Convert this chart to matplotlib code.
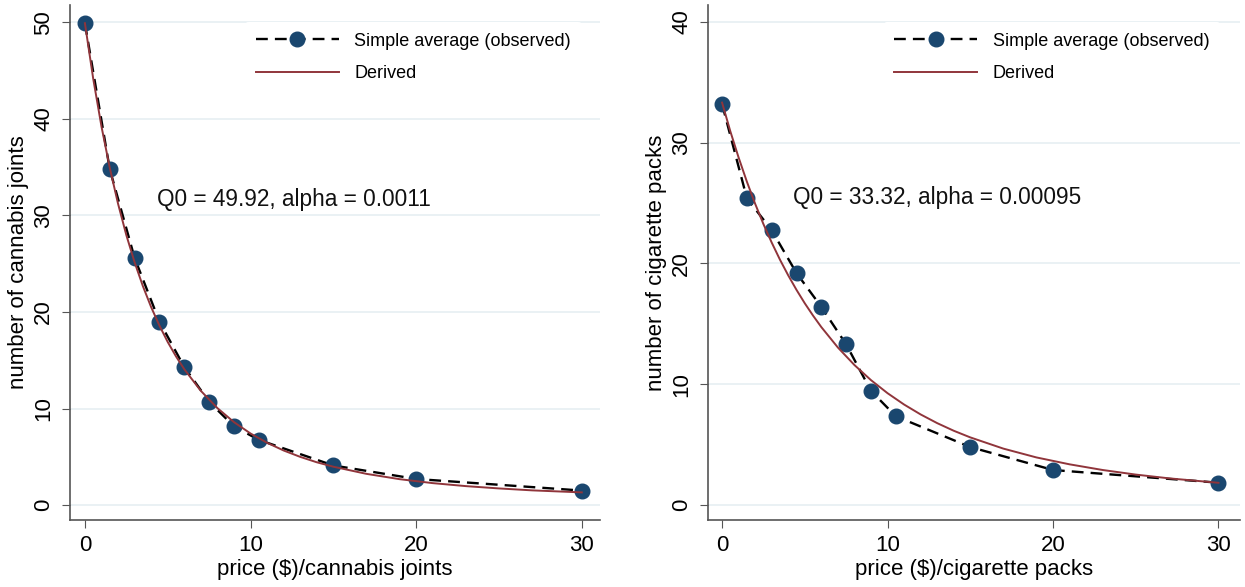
import matplotlib
matplotlib.use('Agg')
import matplotlib.pyplot as plt
import numpy as np

plt.rcParams['font.family'] = ['Liberation Sans', 'DejaVu Sans']

# observed simple averages
price = [0, 1.5, 3, 4.5, 6, 7.5, 9, 10.5, 15, 20, 30]
cannabis_obs = [49.92, 34.8, 25.6, 19.0, 14.3, 10.7, 8.15, 6.75, 4.1, 2.7, 1.5]
cigarette_obs = [33.2, 25.4, 22.75, 19.2, 16.4, 13.3, 9.45, 7.35, 4.8, 2.9, 1.85]

# derived demand curves
curve_price = [0, 0.5, 1, 1.5, 2, 2.5, 3, 3.5, 4, 4.5, 5, 5.5, 6, 7, 8, 9, 10,
               11, 12, 13, 14, 15, 17, 19, 21, 23, 25, 27, 30]
cannabis_fit = [49.92, 44.18, 39.22, 34.94, 31.22, 27.97, 25.15, 22.68, 20.50,
                18.59, 16.89, 15.40, 14.07, 11.83, 10.04, 8.59, 7.41, 6.45,
                5.65, 4.99, 4.43, 3.97, 3.23, 2.68, 2.27, 1.96, 1.72, 1.52, 1.31]
cigarette_fit = [33.32, 30.94, 28.77, 26.77, 24.94, 23.26, 21.73, 20.31, 19.01,
                 17.81, 16.70, 15.68, 14.73, 13.04, 11.59, 10.34, 9.26, 8.32,
                 7.50, 6.78, 6.15, 5.60, 4.67, 3.94, 3.37, 2.90, 2.52, 2.21, 1.84]

W, H = 1245, 587
panels = [
    dict(obs=cannabis_obs, fit=cannabis_fit, yticks=[0, 10, 20, 30, 40, 50],
         ylim=(-1.55, 51.8), xlim=(-0.9, 31.1),
         ylabel='number of cannabis joints', xlabel=r'price (\$)/cannabis joints',
         note='Q0 = 49.92, alpha = 0.0011', note_xy=(4.35, 31.6),
         rect=[70 / W, 1 - 520 / H, 530 / W, 515 / H]),
    dict(obs=cigarette_obs, fit=cigarette_fit, yticks=[0, 10, 20, 30, 40],
         ylim=(-1.24, 41.4), xlim=(-0.85, 31.3),
         ylabel='number of cigarette packs', xlabel=r'price (\$)/cigarette packs',
         note='Q0 = 33.32, alpha = 0.00095', note_xy=(4.3, 25.5),
         rect=[708 / W, 1 - 520 / H, 532 / W, 515 / H]),
]

navy = '#1a476f'
maroon = '#90353b'
gridc = '#e6eff2'
axc = '#555555'

fig = plt.figure(figsize=(W / 100, H / 100), dpi=100)

for p in panels:
    ax = fig.add_axes(p['rect'])
    ax.plot(price, p['obs'], color='black', ls=(0, (5, 3)), lw=1.7,
            marker='o', ms=10.5, mfc=navy, mec=navy, label='Simple average (observed)',
            zorder=3)
    ax.plot(curve_price, p['fit'], color=maroon, lw=1.4, label='Derived', zorder=4)

    ax.set_xlim(*p['xlim'])
    ax.set_ylim(*p['ylim'])
    ax.set_xticks([0, 10, 20, 30])
    ax.set_yticks(p['yticks'])
    ax.set_yticklabels([str(t) for t in p['yticks']], rotation=90, va='center')
    ax.tick_params(labelsize=16, length=5.5, color=axc, direction='out')
    ax.tick_params(axis='x', pad=5)
    ax.tick_params(axis='y', pad=6)
    ax.grid(axis='y', color=gridc, lw=1.2, zorder=0)
    for s in ['top', 'right']:
        ax.spines[s].set_visible(False)
    for s in ['left', 'bottom']:
        ax.spines[s].set_color(axc)
        ax.spines[s].set_linewidth(1.2)
    ax.set_ylabel(p['ylabel'], fontsize=16, labelpad=3)
    ax.set_xlabel(p['xlabel'], fontsize=16, labelpad=2.5)
    ax.text(p['note_xy'][0], p['note_xy'][1], p['note'], fontsize=16.3,
            ha='left', va='center', color='#111111')

    leg = ax.legend(loc='upper left', bbox_to_anchor=(0.313, 0.985), fontsize=13,
                    handlelength=4.6, handletextpad=0.85, labelspacing=0.85,
                    frameon=True, facecolor='white', edgecolor='none',
                    framealpha=1, borderpad=0.6)
    leg.set_zorder(5)

fig.savefig('out.png', dpi=100)
